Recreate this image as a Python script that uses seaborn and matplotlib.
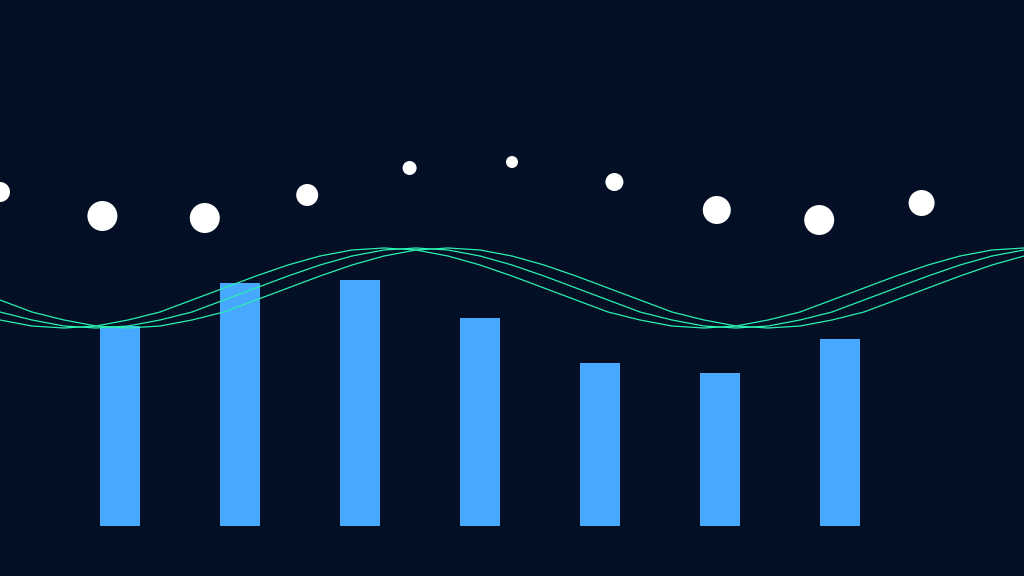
import matplotlib
matplotlib.use("Agg")
import matplotlib.pyplot as plt
import seaborn as sns
import numpy as np
import pandas as pd

bar_idx = [0, 1, 2, 3, 4, 5, 6]
bar_vals = [200, 243, 246, 208, 163, 153, 187]

dot_idx = [0, 1, 2, 3, 4, 5, 6, 7, 8, 9]
dot_y = [192, 216, 218, 195, 168, 162, 182, 210, 220, 203]
dot_r = [10, 15, 15, 11, 7, 6, 9, 14, 15, 13]

wave1 = [320, 326, 328, 326, 320, 312, 300, 288, 276, 265, 256, 250, 248, 250, 256, 265, 276,
         288, 300, 312, 320, 326, 328, 326, 320, 312, 300, 288, 276, 265, 256, 250, 248]
wave2 = [312, 320, 326, 328, 326, 320, 312, 300, 288, 276, 265, 256, 250, 248, 250, 256, 265,
         276, 288, 300, 312, 320, 326, 328, 326, 320, 312, 300, 288, 276, 265, 256, 250]
wave3 = [300, 312, 320, 326, 328, 326, 320, 312, 300, 288, 276, 265, 256, 250, 248, 250, 256,
         265, 276, 288, 300, 312, 320, 326, 328, 326, 320, 312, 300, 288, 276, 265, 256]
wave_x = list(range(33))

bg = "#030f24"
sns.set_theme(style="dark")
fig = plt.figure(figsize=(10.24, 5.76), dpi=100, facecolor=bg)
ax = fig.add_axes([0, 0, 1, 1])
ax.set_facecolor(bg)
sns.barplot(x=bar_idx, y=bar_vals, native_scale=True, width=0.333, color="#47a8ff",
            saturation=1, ax=ax, linewidth=0)
ax.set_xlim(-1, 7.5333)
ax.set_ylim(-50, 526)
ax.axis("off")

ax2 = fig.add_axes([0, 0, 1, 1])
ax2.patch.set_alpha(0)
for w in (wave1, wave2, wave3):
    sns.lineplot(x=wave_x, y=w, ax=ax2, color="#2af0b0", linewidth=0.9)
ax2.set_xlim(0, 32)
ax2.set_ylim(576, 0)
ax2.axis("off")

ax3 = fig.add_axes([0, 0, 1, 1])
ax3.patch.set_alpha(0)
sizes = [(2 * r * 0.72) ** 2 for r in dot_r]
ax3.scatter(dot_idx, dot_y, s=sizes, color="white", linewidths=0)
ax3.set_xlim(0, 10)
ax3.set_ylim(576, 0)
ax3.axis("off")

fig.savefig("out.png", dpi=100, facecolor=bg)
